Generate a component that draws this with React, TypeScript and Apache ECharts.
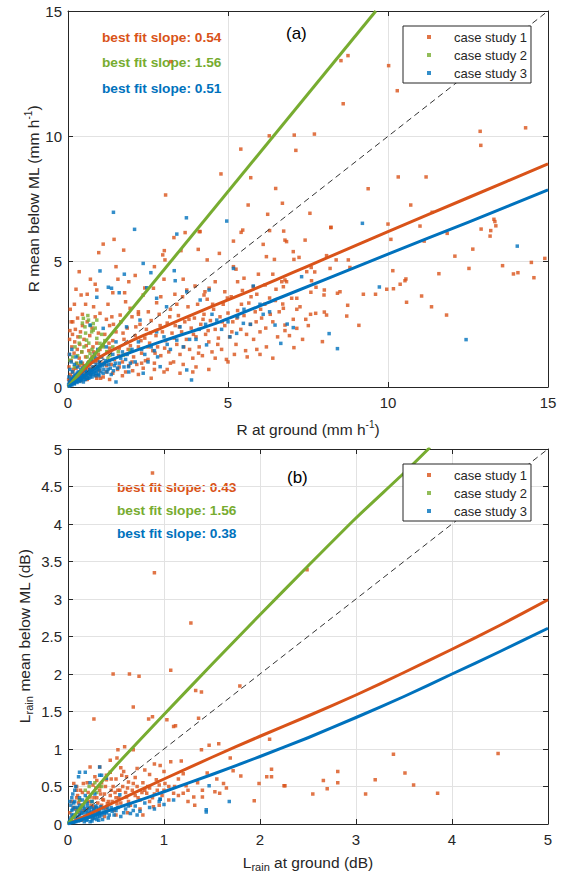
import React, { useEffect, useRef } from "react";
import * as echarts from "echarts";

type P = [number, number];

const seriesNames = ["case study 1", "case study 2", "case study 3"];
const slopeLabelsA = ["best fit slope: 0.54", "best fit slope: 1.56", "best fit slope: 0.51"];
const slopeLabelsB = ["best fit slope: 0.43", "best fit slope: 1.56", "best fit slope: 0.38"];
const ticksA = { min: 0, max: 15, xInterval: 5, yInterval: 5 };
const ticksB = { min: 0, max: 5, xInterval: 1, yInterval: 0.5 };

// ---------- Panel (a): rain rate ----------
const caseA1: P[] = [
  [3.05,7.66],[4.78,8.5],[5.4,9.49],[5.71,8.35],[6.29,10.02],[6.49,7.92],[7.07,10.05],[7.12,9.44],[3.21,12.98],[8.53,13.02],
  [8.75,13.22],[8.6,11.3],[10.02,12.82],[10.29,11.82],[7.7,10.09],[12.88,10.2],[14.3,10.34],[12.9,9.64],[10.32,8.38],[11.19,8.38],
  [9.38,7.91],[5.63,7.26],[6.7,7.33],[6.24,6.89],[7.56,6.93],[8.22,6.37],[10.0,6.5],[4.13,6.2],[5.41,6.17],[6.3,6.24],[6.74,6.22],
  [10.71,7.26],[11.38,6.97],[11.0,6.42],[8.21,6.36],[6.78,5.86],[6.83,5.8],[7.41,5.86],[10.09,5.89],[11.13,5.82],[11.85,6.13],
  [13.31,6.69],[13.34,6.6],[13.37,6.43],[13.21,6.24],[13.19,6.02],[12.91,6.3],[12.65,5.5],[12.09,5.22],[12.53,4.73],[14.48,4.97],
  [14.9,5.13],[13.58,4.84],[13.92,4.51],[14.06,4.56],[14.56,4.36],[11.59,4.52],[7.04,5.4],[7.06,5.09],[7.22,5.17],[8.08,5.24],
  [8.38,5.07],[8.76,5.07],[8.81,4.77],[8.19,4.73],[7.6,4.77],[7.46,4.6],[7.71,4.59],[6.68,4.2],[6.83,4.2],[6.73,4.0],
  [7.61,4.24],[7.75,3.98],[10.15,4.64],[10.56,4.31],[10.53,4.24],[10.38,4.1],[9.96,3.9],[10.17,3.92],[7.59,3.78],[8.01,3.87],
  [8.0,3.67],[8.42,3.74],[8.5,3.8],[9.23,3.7],[9.61,3.7],[11.05,3.63],[10.58,3.38],[11.36,3.2],[11.83,2.87],[6.99,3.54],
  [7.15,3.54],[7.25,3.2],[7.15,3.1],[6.71,3.31],[6.73,3.14],[7.58,2.9],[7.74,2.94],[8.01,2.99],[8.08,2.87],[8.74,3.26],
  [8.71,2.83],[9.09,2.46],[7.04,2.7],[7.43,2.7],[7.15,2.34],[7.51,2.45],[6.78,2.47],[6.78,2.25],[6.92,2.05],[7.33,1.9],
  [7.06,1.57],[7.95,1.81],
  [1.1,5.7],[1.44,5.89],[0.96,5.36],[1.74,5.46],[1.56,4.3],[0.41,3.67],[0.9,3.87],[1.4,3.76],[1.77,3.76],[3.01,5.44],
  [2.96,5.27],[3.03,5.07],[3.31,5.96],[3.66,6.16],[4.1,6.2],[3.53,5.44],[4.07,5.49],[4.73,5.33],[4.35,5.07],[5.17,4.8],
  [5.25,4.7],[5.46,6.26],[5.17,5.82],[6.1,5.69],[6.45,5.09],[5.5,4.34],[5.79,4.0],[6.16,4.07],[6.4,4.5],[6.78,4.27],
  [3.97,4.03],[4.28,3.8],[4.41,3.94],[4.25,3.67],[3.71,3.87],[3.34,3.7],[3.58,3.6],[2.67,3.94],[2.35,3.67],[2.77,3.36],
  [1.0,2.94],[1.37,2.8],[1.63,2.87],[1.94,3.14],[2.2,3.0],[2.51,3.0],
  [1.05,1.2],[1.1,1.65],[1.15,2.1],[1.2,0.6],[1.25,1.4],[1.3,2.45],[1.35,0.9],[1.4,1.85],[1.45,1.1],[1.5,2.2],
  [1.55,0.7],[1.6,1.55],[1.65,2.6],[1.7,1.0],[1.75,1.9],[1.8,1.3],[1.85,2.35],[1.9,0.85],[1.95,1.65],[2.0,2.8],
  [2.05,1.2],[2.1,2.05],[2.15,0.9],[2.2,1.6],[2.25,2.5],[2.3,1.35],[2.35,0.75],[2.4,1.95],[2.45,2.3],[2.5,1.1],
  [2.55,1.75],[2.6,2.65],[2.65,1.45],[2.7,0.95],[2.75,2.05],[2.8,1.6],[2.85,2.9],[2.9,1.25],[2.95,2.2],[3.0,0.6],
  [3.05,1.85],[3.1,2.55],[3.15,1.4],[3.2,3.1],[3.25,2.15],[3.3,1.0],[3.35,2.45],[3.4,1.7],[3.45,2.85],[3.5,1.3],
  [3.55,2.2],[3.6,0.9],[3.65,2.6],[3.7,1.9],[3.75,3.2],[3.8,1.5],[3.85,2.35],[3.9,1.15],[3.95,2.75],[4.0,2.0],
  [4.05,3.3],[4.1,1.6],[4.15,2.5],[4.2,1.25],[4.25,2.9],[4.3,2.1],[4.35,3.5],[4.4,1.8],[4.45,2.65],[4.5,1.4],
  [4.55,3.1],[4.6,2.3],[4.7,1.95],[4.75,2.8],[4.8,1.5],[4.85,3.3],[4.9,2.45],[4.95,1.1],[5.0,2.95],[5.05,2.0],
  [5.1,3.6],[5.15,2.6],[5.25,1.7],[5.3,3.05],[5.4,2.3],[5.45,3.85],[5.5,2.85],[5.55,1.45],[5.65,3.35],[5.7,2.5],
  [5.8,1.9],[5.85,3.0],[5.9,3.7],[6.0,2.2],[6.05,2.75],[6.15,3.3],[6.2,1.6],[6.3,3.55],[6.4,2.6],[6.5,3.9],
  [6.55,2.0],[6.6,3.0],
  [0.02,0.3],[0.03,0.8],[0.04,1.3],[0.05,1.9],[0.06,2.25],[0.08,0.5],[0.1,1.05],[0.12,1.6],[0.14,2.1],[0.15,0.2],
  [0.17,0.7],[0.19,1.35],[0.21,1.8],[0.23,2.3],[0.25,0.45],[0.27,0.95],[0.29,1.5],[0.31,2.0],[0.33,0.3],[0.35,1.15],
  [0.37,1.7],[0.39,2.2],[0.41,0.6],[0.43,1.4],[0.45,2.45],[0.47,0.85],[0.5,1.9],[0.52,0.4],[0.55,1.2],[0.57,1.65],
  [0.6,2.6],[0.62,0.7],[0.65,1.45],[0.68,2.05],[0.7,0.5],[0.73,1.0],[0.75,2.35],[0.78,1.6],[0.8,0.8],[0.83,1.25],
  [0.85,2.8],[0.88,0.45],[0.9,1.75],[0.93,1.05],[0.95,2.15],[0.98,0.65],[1.0,1.5],[1.02,0.35],[0.07,3.1],[0.15,2.6],
  [0.3,2.75],[0.55,3.3],[0.7,4.3],[0.25,3.9],[0.35,4.6],[0.85,4.1],[1.25,3.3],[1.5,4.8],[2.1,4.45],[2.7,4.8],
  [3.0,4.3],[2.4,3.95],[1.9,4.2],
  [1.3,0.3],[1.7,0.45],[2.2,0.5],[2.6,0.35],[3.1,0.7],[3.5,0.55],[4.0,0.8],[4.4,0.7],[5.0,1.0],[5.6,1.2],[6.0,1.3],[6.4,1.15],
  [1.12,0.95],[1.28,1.75],[1.42,2.5],[1.58,1.25],[1.72,2.15],[1.88,1.5],[2.02,0.65],[2.12,2.4],[2.28,1.85],[2.42,1.05],
  [2.58,2.15],[2.72,1.35],[2.88,2.45],[3.02,1.55],[3.18,2.8],[3.32,1.95],[3.48,2.4],[3.62,1.6],[3.78,2.7],[3.92,2.1],
  [4.08,1.35],[4.22,2.7],[4.38,2.25],[4.52,3.3],[4.68,1.7],[4.82,2.6],[4.98,3.55],[5.12,2.2],[5.28,2.75],[5.42,3.3],
  [5.58,2.1],[5.72,3.6],[5.88,2.6],[6.02,3.1],[6.18,2.35],[6.32,2.9],[6.48,3.45],[3.2,0.95],[3.9,0.6],[4.6,1.15],
  [5.2,1.3],[5.9,1.5],[2.9,3.6],[3.4,3.3],[3.6,4.3],[4.6,4.2],[4.9,3.8],[5.3,4.2],[5.95,4.5],[6.2,5.2],
  [2.2,2.9],[1.8,3.4],[1.2,2.7],[0.8,3.2],[0.6,3.7],[0.45,2.9],[0.2,3.3],[0.1,2.6],
  [0.05,0.15],[0.1,0.4],[0.15,0.6],[0.2,0.35],[0.25,0.75],[0.3,0.5],[0.35,0.85],[0.4,0.25],[0.45,0.95],[0.5,0.6],
  [0.55,0.85],[0.6,0.3],[0.65,1.0],[0.7,0.75],[0.75,1.2],[0.8,1.4],[0.85,1.0],[0.9,0.35],[0.95,1.3],[1.0,0.95],
  [1.1,0.4],[1.2,0.85],[1.3,1.55],[1.4,0.55],[1.6,0.8],[1.8,0.6],[2.0,1.0],[2.3,0.95],[2.5,1.6],[2.7,0.7]
];
const caseA2: P[] = [
  [0.48,2.74],[0.64,2.67],[0.79,2.53],[0.53,2.4],[0.74,2.2],[0.38,2.0],[0.58,1.87],[0.9,1.94],[1.0,1.74],[1.1,1.6],
  [0.22,1.6],[0.43,1.4],[0.69,1.34],[1.21,1.41],[1.31,1.27],[1.57,1.41],[1.73,1.27],[0.06,1.07],[0.27,0.94],[0.9,2.67],
  [0.79,2.27],[1.94,1.47],[0.45,2.55],[0.55,2.15],[0.62,2.85],[0.7,2.45],[0.85,2.35],[0.35,1.75],[0.5,1.6],[0.6,1.2],
  [0.75,1.5],[0.95,1.45],[1.05,2.1],[1.15,1.85],[0.3,1.25],[0.4,0.95],[0.2,0.8],[0.15,1.2],[1.4,1.6],[1.25,1.15],
  [0.8,1.1],[0.65,1.75]
];
const caseA3: P[] = [
  [4.96,6.62],[9.2,6.53],[14.04,5.62],[7.3,4.4],[9.73,3.99],[6.85,2.51],[7.04,2.37],[8.16,2.13],[8.42,1.53],[12.44,1.89],
  [6.65,1.74],[1.42,6.97],[2.08,6.29],[3.7,6.75],[3.4,6.1],[2.35,4.93],[1.0,4.63],[1.76,4.5],[2.59,4.56],[3.32,4.64],
  [3.35,4.24],[1.26,3.98],[1.36,3.94],[1.6,3.76],[0.9,3.58],[2.46,3.96],[2.77,3.54],[3.08,3.2],[3.71,3.8],[4.13,3.47],
  [4.41,3.87],[5.17,4.73],[5.79,4.03],[5.27,2.14],[6.47,2.47],[4.65,2.67],[4.33,1.68],[3.86,0.28],[3.71,0.68],[2.88,0.81],
  [2.35,0.55],[1.89,0.81],[5.06,2.0],[5.48,2.54],[3.4,1.87],[2.77,2.2],[2.25,2.67],[1.83,2.4],[1.1,2.34],[0.69,2.47],
  [0.05,0.05],[0.08,0.15],[0.1,0.3],[0.12,0.08],[0.15,0.2],[0.18,0.4],[0.2,0.12],[0.22,0.28],[0.25,0.5],[0.28,0.18],
  [0.3,0.35],[0.32,0.6],[0.35,0.22],[0.38,0.45],[0.4,0.7],[0.42,0.3],[0.45,0.55],[0.48,0.2],[0.5,0.4],[0.52,0.8],
  [0.55,0.3],[0.58,0.6],[0.6,0.45],[0.62,0.95],[0.65,0.35],[0.68,0.7],[0.7,0.5],[0.72,1.1],[0.75,0.4],[0.78,0.8],
  [0.8,0.6],[0.83,1.3],[0.85,0.45],[0.88,0.9],[0.9,0.65],[0.93,1.5],[0.95,0.5],[0.98,1.0],[1.0,0.75],[1.05,1.2],
  [1.1,0.55],[1.15,0.9],[1.2,1.6],[1.25,0.7],[1.3,1.05],[1.35,0.5],[1.4,1.3],[1.45,0.85],[1.5,1.8],[1.6,0.95],
  [1.7,1.4],[1.8,1.1],[1.9,0.6],[2.0,1.5],[2.1,1.0],[2.2,1.8],[2.4,1.3],[2.6,1.6],[2.8,1.2],[3.0,2.0],
  [3.2,1.5],[3.5,2.4],[3.8,1.9],[4.1,2.3],[4.5,2.9],[5.0,2.6],[5.5,3.1],[6.0,3.3],[6.3,3.0],[0.03,0.4],
  [0.06,0.7],[0.1,1.0],[0.14,0.6],[0.2,0.9],[0.25,1.2],[0.3,0.8],[0.05,1.3],[0.4,1.0],[0.12,1.5],[1.5,0.2],
  [0.02,0.1],[0.04,0.2],[0.07,0.1],[0.09,0.25],[0.11,0.18],[0.13,0.35],[0.16,0.28],[0.19,0.15],[0.21,0.45],[0.24,0.3],
  [0.27,0.22],[0.29,0.55],[0.31,0.4],[0.34,0.3],[0.36,0.6],[0.39,0.25],[0.41,0.5],[0.44,0.35],[0.46,0.75],[0.49,0.45],
  [0.51,0.3],[0.54,0.65],[0.57,0.45],[0.59,0.85],[0.61,0.35],[0.64,0.55],[0.67,0.9],[0.69,0.4],[0.71,0.65],[0.74,0.55],
  [0.77,1.0],[0.79,0.5],[0.82,0.75],[0.84,0.6],[0.87,1.15],[0.89,0.55],[0.92,0.8],[0.94,0.7],[0.97,0.45],[0.99,0.9],
  [1.02,0.6],[1.07,0.85],[1.12,0.7],[1.17,1.05],[1.22,0.6],[1.27,0.9],[1.32,0.75],[1.38,1.1],[1.42,0.65],[1.48,0.95],
  [1.55,0.75],[1.65,1.15],[1.75,0.8],[1.85,1.3],[1.95,0.95],[2.3,1.5],[2.5,1.0],[2.7,1.45],[3.1,1.7],[3.6,1.6],
  [4.0,1.9],[4.3,2.5],[4.8,2.3],[5.3,2.8],[5.7,2.5],[6.1,2.9]
];
const fitA1: P[] = [[0,0],[0.5,0.7],[1,1.2],[2,1.85],[3,2.4],[4,2.95],[5,3.48],[6,4.0],[7,4.55],[8,5.1],[10,6.2],[12.5,7.55],[15,8.9]];
const fitA2: P[] = [[0,0],[9.62,15]];
const fitA3: P[] = [[0,0],[0.5,0.45],[1.2,1.0],[2,1.4],[3,1.85],[4.75,2.6],[6.6,3.55],[10,5.3],[12.5,6.57],[15,7.86]];
const oneToOneA: P[] = [[0,0],[15,15]];

// ---------- Panel (b): rain attenuation ----------
const caseB1: P[] = [
  [0.88,4.68],[0.9,3.35],[1.28,2.68],[2.49,3.39],[0.47,2.0],[0.64,2.0],[0.74,1.97],[1.07,2.05],[0.27,1.4],[0.68,1.56],
  [0.84,1.4],[0.88,1.43],[1.03,1.39],[1.1,1.3],[1.33,1.78],[1.39,1.76],[1.36,1.41],[1.79,1.84],[1.47,1.05],[1.57,1.07],
  [1.39,0.99],[0.96,0.78],[1.07,0.83],[1.18,0.84],[1.2,0.67],[1.69,0.88],[1.72,0.71],[1.8,0.64],[2.1,1.13],[2.12,0.73],
  [2.07,0.63],[2.12,0.63],[1.99,0.54],[2.25,0.51],[1.94,0.31],[1.32,0.25],[1.62,0.54],[1.65,0.48],[1.58,0.41],[1.53,0.43],
  [1.4,0.36],[1.23,0.51],[1.1,0.41],[0.82,0.41],[0.85,0.48],[0.68,0.54],[0.72,0.5],[0.61,0.63],[0.58,0.7],[0.51,0.88],
  [0.52,0.99],[0.59,1.03],[0.68,0.99],[0.44,0.85],[0.33,0.76],[0.28,0.63],[0.23,0.76],[0.33,0.5],[0.4,0.59],[0.47,0.5],
  [0.54,0.45],[0.26,0.52],[0.16,0.54],[0.09,0.5],
  [3.39,0.93],[4.48,0.94],[2.81,0.7],[2.66,0.58],[2.81,0.55],[2.7,0.47],[2.55,0.4],[2.26,0.51],[3.1,0.4],[3.2,0.59],
  [3.51,0.68],[3.6,0.52],[3.85,0.41],[1.12,1.31],
  [0.44,0.69],[0.56,0.65],[0.63,0.56],[0.72,0.74],[0.8,0.72],[0.92,0.59],[1.01,0.54],[1.11,0.5],[1.2,0.41],[1.31,0.36],
  [1.05,0.32],[0.89,0.23],[0.75,0.32],[0.61,0.36],[0.51,0.27],[0.37,0.32],[0.26,0.23],[0.52,0.45],[0.33,0.45],[0.23,0.36],
  [0.12,0.32],[0.09,0.45],[0.06,0.54],
  [0.05,0.1],[0.08,0.2],[0.1,0.05],[0.12,0.15],[0.15,0.25],[0.18,0.1],[0.2,0.2],[0.22,0.3],[0.25,0.12],[0.28,0.22],
  [0.3,0.35],[0.32,0.15],[0.35,0.25],[0.38,0.4],[0.4,0.2],[0.42,0.3],[0.45,0.45],[0.48,0.18],[0.5,0.35],[0.55,0.28],
  [0.6,0.42],[0.65,0.25],[0.7,0.38],[0.75,0.2],[0.8,0.45],[0.85,0.3],[0.9,0.4],[0.95,0.25],[1.0,0.45],
  [0.35,0.55],[0.45,0.6],[0.55,0.75],[0.62,0.48],[0.7,0.62],[0.78,0.55],[0.85,0.66],[0.95,0.52],[1.15,0.6],[1.25,0.45],
  [1.35,0.55],[1.45,0.68],[1.55,0.6],[1.0,0.7],[0.9,0.8],[0.5,0.6],[0.4,0.65],[0.3,0.58],[0.2,0.55],[0.15,0.42],[0.1,0.38],
  [0.02,0.15],[0.04,0.3],[0.06,0.22],[0.09,0.35],[0.11,0.28],[0.13,0.45],[0.16,0.18],[0.19,0.3],[0.21,0.42],[0.24,0.25],
  [0.27,0.35],[0.29,0.48],[0.31,0.28],[0.34,0.4],[0.36,0.33],[0.39,0.5],[0.41,0.27],[0.44,0.38],[0.46,0.3],[0.49,0.42],
  [0.53,0.35],[0.57,0.5],[0.63,0.3],[0.67,0.45],[0.73,0.35],[0.77,0.42],[0.83,0.5],[0.88,0.35],[0.93,0.45],[0.98,0.38],
  [1.05,0.5],[1.15,0.38],[1.25,0.3],[1.4,0.45],[0.14,0.05],[0.26,0.08],[0.38,0.1],[0.5,0.12],[0.62,0.15],[0.78,0.12]
];
const caseB2: P[] = [
  [0.15,0.25],[0.2,0.35],[0.25,0.3],[0.18,0.45],[0.3,0.42],[0.1,0.2],[0.22,0.5],[0.28,0.55],[0.12,0.32],[0.35,0.5]
];
const caseB3: P[] = [
  [0.12,0.69],[0.07,0.45],[0.35,0.65],[0.4,0.61],[0.23,0.55],[0.96,0.33],[1.44,0.19],[0.33,0.65],[0.33,0.76],[0.18,0.69],
  [0.11,0.63],[1.47,0.51],[1.68,0.3],[1.44,0.16],[0.96,0.33],[0.54,0.39],
  [0.02,0.05],[0.04,0.12],[0.05,0.2],[0.06,0.02],[0.08,0.08],[0.09,0.16],[0.1,0.22],[0.11,0.04],[0.12,0.12],[0.13,0.19],
  [0.14,0.07],[0.15,0.15],[0.16,0.23],[0.17,0.03],[0.18,0.1],[0.19,0.18],[0.2,0.06],[0.21,0.14],[0.22,0.21],[0.23,0.09],
  [0.24,0.17],[0.25,0.04],[0.26,0.12],[0.27,0.2],[0.28,0.08],[0.29,0.15],[0.3,0.22],[0.31,0.1],[0.32,0.05],[0.33,0.17],
  [0.35,0.12],[0.37,0.2],[0.4,0.15],[0.42,0.08],[0.45,0.22],[0.48,0.12],[0.5,0.18],[0.55,0.1],[0.6,0.2],[0.65,0.14],
  [0.7,0.24],[0.75,0.17],[0.8,0.28],[0.9,0.2],[1.0,0.26],[1.1,0.32],[0.03,0.25],[0.07,0.3],[0.12,0.35],[0.05,0.4],
  [0.15,0.32],[0.08,0.5],[0.2,0.28],[0.25,0.3],[0.28,0.4],[0.18,0.38],
  [0.01,0.02],[0.03,0.08],[0.04,0.18],[0.06,0.12],[0.07,0.22],[0.08,0.03],[0.1,0.1],[0.11,0.18],[0.12,0.25],[0.13,0.05],
  [0.14,0.14],[0.16,0.08],[0.17,0.2],[0.18,0.15],[0.19,0.05],[0.2,0.24],[0.21,0.1],[0.22,0.16],[0.23,0.03],[0.24,0.22],
  [0.25,0.14],[0.26,0.07],[0.27,0.18],[0.28,0.12],[0.29,0.24],[0.3,0.06],[0.31,0.16],[0.32,0.2],[0.33,0.1],[0.34,0.23],
  [0.36,0.06],[0.38,0.14],[0.41,0.22],[0.43,0.12],[0.46,0.17],[0.52,0.22],[0.58,0.15],[0.63,0.24],[0.68,0.18],[0.72,0.12],
  [0.85,0.22],[0.95,0.3],[0.02,0.3],[0.04,0.35],[0.06,0.28]
];
const fitB1: P[] = [[0,0],[0.5,0.3],[1,0.6],[1.5,0.89],[2,1.17],[2.5,1.44],[3,1.72],[3.5,2.02],[4,2.33],[4.5,2.65],[5,2.99]];
const fitB2: P[] = [[0,0],[0.25,0.41],[0.5,0.78],[1,1.46],[1.5,2.13],[2,2.79],[2.5,3.44],[3,4.08],[3.5,4.68],[3.77,5.02]];
const fitB3: P[] = [[0,0],[0.5,0.21],[1,0.43],[1.5,0.66],[2,0.9],[2.5,1.15],[3,1.42],[3.5,1.7],[4,2.0],[4.5,2.3],[5,2.61]];
const oneToOneB: P[] = [[0,0],[5,5]];

const COLORS = ["#D95319", "#77AC30", "#0072BD"];
const FONT = '"Liberation Sans", Arial, Helvetica, sans-serif';
const AX = "#262626";

function xAxes(grid: number, t: typeof ticksA) {
  const base = {
    type: "value" as const,
    gridIndex: grid,
    min: t.min,
    max: t.max,
    interval: t.xInterval,
    axisLine: { show: true, onZero: false, lineStyle: { color: AX, width: 1 } },
    axisTick: { show: true, inside: true, length: 5, lineStyle: { color: AX } },
  };
  return [
    {
      ...base,
      position: "bottom",
      axisLabel: { color: AX, fontSize: 15, fontFamily: FONT, margin: 8 },
      splitLine: { show: true, lineStyle: { color: "#e2e2e2", width: 1 } },
    },
    { ...base, position: "top", axisLabel: { show: false }, splitLine: { show: false } },
  ];
}
function yAxes(grid: number, t: typeof ticksA) {
  const base = {
    type: "value" as const,
    gridIndex: grid,
    min: t.min,
    max: t.max,
    interval: t.yInterval,
    axisLine: { show: true, onZero: false, lineStyle: { color: AX, width: 1 } },
    axisTick: { show: true, inside: true, length: 5, lineStyle: { color: AX } },
  };
  return [
    {
      ...base,
      position: "left",
      axisLabel: { color: AX, fontSize: 15, fontFamily: FONT, margin: 6 },
      splitLine: { show: true, lineStyle: { color: "#e2e2e2", width: 1 } },
    },
    { ...base, position: "right", axisLabel: { show: false }, splitLine: { show: false } },
  ];
}

function panelSeries(axisX: number, axisY: number, pts: P[][], fits: P[][], diag: P[]) {
  const out: any[] = [];
  pts.forEach((d, i) => {
    out.push({
      type: "scatter",
      name: seriesNames[i],
      xAxisIndex: axisX,
      yAxisIndex: axisY,
      data: d,
      symbol: "rect",
      symbolSize: 3.5,
      itemStyle: { color: COLORS[i] },
      silent: true,
    });
  });
  out.push({
    type: "line",
    name: "1:1",
    xAxisIndex: axisX,
    yAxisIndex: axisY,
    data: diag,
    showSymbol: false,
    clip: true,
    lineStyle: { color: "#333", width: 1, type: [6, 4] },
    silent: true,
  });
  fits.forEach((d, i) => {
    out.push({
      type: "line",
      name: "fit " + (i + 1),
      xAxisIndex: axisX,
      yAxisIndex: axisY,
      data: d,
      showSymbol: false,
      smooth: 0.2,
      clip: true,
      lineStyle: { color: COLORS[i], width: 3, join: "round" },
      silent: true,
    });
  });
  return out;
}

function legendAt(top: number) {
  return {
    orient: "vertical",
    left: 403,
    top,
    data: seriesNames,
    icon: "rect",
    itemWidth: 4,
    itemHeight: 4,
    itemGap: 4,
    padding: [4, 4, 3, 24],
    borderColor: AX,
    borderWidth: 1,
    backgroundColor: "#fff",
    selectedMode: false,
    textStyle: { fontSize: 13, color: AX, fontFamily: FONT, lineHeight: 14, padding: [0, 0, 0, 18] },
  };
}

function slopeTexts(left: number, ys: number[], labels: string[]) {
  return labels.map((t, i) => ({
    type: "text",
    x: left,
    y: ys[i],
    silent: true,
    style: {
      text: t,
      fill: COLORS[i],
      fontSize: 13.7,
      fontWeight: "bold",
      fontFamily: FONT,
      align: "left",
      verticalAlign: "middle",
    },
  }));
}

const richSup = { fontSize: 10, lineHeight: 10, verticalAlign: "top", fontFamily: FONT, fill: AX };
const richSub = { fontSize: 11, lineHeight: 11, verticalAlign: "bottom", fontFamily: FONT, fill: AX };

function title(text: string, x: number, y: number, rotate: boolean) {
  return {
    type: "text",
    x,
    y,
    rotation: rotate ? Math.PI / 2 : 0,
    silent: true,
    style: {
      text,
      fill: AX,
      fontSize: 15.5,
      lineHeight: 20,
      fontFamily: FONT,
      align: "center",
      verticalAlign: "middle",
      rich: { sup: richSup, sub: richSub },
    },
  };
}

export default function App() {
  const ref = useRef<HTMLDivElement>(null);
  useEffect(() => {
    document.body.style.margin = "0";
    if (!ref.current) return;
    const chart = echarts.init(ref.current, undefined, { renderer: "svg" });
    const option: any = {
      animation: false,
      backgroundColor: "#fff",
      grid: [
        { left: 68, top: 11, width: 480, height: 376, show: false },
        { left: 68, top: 449, width: 480, height: 375, show: false },
      ],
      xAxis: [...xAxes(0, ticksA), ...xAxes(1, ticksB)],
      yAxis: [...yAxes(0, ticksA), ...yAxes(1, ticksB)],
      legend: [legendAt(26), legendAt(464)],
      series: [
        ...panelSeries(0, 0, [caseA1, caseA2, caseA3], [fitA1, fitA2, fitA3], oneToOneA),
        ...panelSeries(2, 2, [caseB1, caseB2, caseB3], [fitB1, fitB2, fitB3], oneToOneB),
      ],
      graphic: [
        ...slopeTexts(102, [37, 62, 88], slopeLabelsA),
        ...slopeTexts(117, [487, 510, 533], slopeLabelsB),
        {
          type: "text", x: 286, y: 33, silent: true,
          style: { text: "(a)", fill: "#000", fontSize: 17, fontFamily: FONT, align: "left", verticalAlign: "middle" },
        },
        {
          type: "text", x: 287, y: 477, silent: true,
          style: { text: "(b)", fill: "#000", fontSize: 17, fontFamily: FONT, align: "left", verticalAlign: "middle" },
        },
        title("R at ground (mm h{sup|-1})", 308, 429, false),
        title("R mean below ML (mm h{sup|-1})", 33, 199, true),
        title("L{sub|rain} at ground (dB)", 308, 862, false),
        title("L{sub|rain} mean below ML (dB)", 24, 636, true),
      ],
    };
    chart.setOption(option);
    return () => chart.dispose();
  }, []);
  return <div ref={ref} style={{ width: 570, height: 878 }} />;
}
